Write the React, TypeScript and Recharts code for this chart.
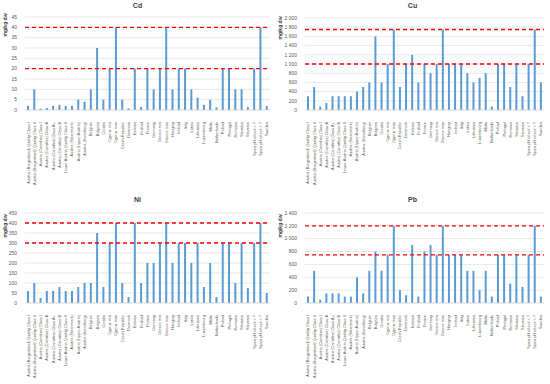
import React from 'react';
import { BarChart, Bar, XAxis, YAxis, CartesianGrid, ReferenceLine } from 'recharts';

const categories = [
  'Austria (Burgenland) Quality Class I',
  'Austria (Burgenland) Quality Class II',
  'Austria (Carinthia) Class I',
  'Austria (Carinthia) Class A',
  'Austria (Carinthia) Class A+',
  'Austria (Carinthia) Class B',
  'Lower Austria Quality Class II',
  'Austria (Steiermark)',
  'Austria (Upper Austria)',
  'Austria (Vorarlberg)',
  'Belgium',
  'Bulgaria',
  'Croatia',
  'Cyprus min',
  'Cyprus max',
  'Czech Republic',
  'Denmark',
  'Estonia',
  'Finland',
  'France',
  'Germany',
  'Greece min',
  'Greece max',
  'Hungary',
  'Ireland',
  'Italy',
  'Latvia',
  'Lithuania',
  'Luxembourg',
  'Malta',
  'Netherlands',
  'Poland',
  'Portugal',
  'Romania',
  'Slovakia',
  'Slovenia',
  'Spain pH of soil < 7',
  'Spain pH of soil > 7',
  'Sweden',
];

const cd = [2, 10, 0.7, 1, 2, 2.5, 2, 2, 5, 4, 10, 30, 5, 20, 40, 5, 0.8, 20, 1.5, 20, 10, 20, 40, 10, 20, 20, 10, 6, 2.5, 5, 1.3, 20, 20, 10, 10, 1.5, 20, 40, 2];
const cu = [300, 500, 75, 150, 300, 300, 300, 300, 400, 500, 600, 1600, 600, 1000, 1750, 500, 1000, 1200, 600, 1000, 800, 1000, 1750, 1000, 1000, 1000, 800, 600, 700, 800, 75, 1000, 1000, 500, 1000, 300, 1000, 1750, 600];
const ni = [60, 100, 25, 60, 60, 80, 60, 60, 80, 100, 100, 350, 80, 300, 400, 100, 30, 400, 100, 200, 200, 300, 400, 200, 300, 300, 200, 300, 80, 200, 30, 300, 300, 100, 300, 75, 300, 400, 50];
const pb = [100, 500, 50, 150, 150, 150, 100, 100, 400, 150, 500, 800, 500, 750, 1200, 200, 120, 900, 100, 800, 900, 750, 1200, 750, 750, 750, 500, 500, 200, 500, 100, 750, 750, 300, 750, 250, 750, 1200, 100];

const cdTicks = [0, 5, 10, 15, 20, 25, 30, 35, 40, 45];
const cuTicks = [0, 200, 400, 600, 800, 1000, 1200, 1400, 1600, 1800, 2000];
const niTicks = [0, 50, 100, 150, 200, 250, 300, 350, 400, 450];
const pbTicks = [0, 200, 400, 600, 800, 1000, 1200, 1400];

const cdLimits = [20, 40];
const cuLimits = [1000, 1750];
const niLimits = [300, 400];
const pbLimits = [750, 1200];

const FONT = 'Liberation Sans, Arial, sans-serif';

// thousands separated by a non-breaking space so the tick text never wraps
function fmt(n: number) {
  if (n < 1000) return String(n);
  return `${Math.floor(n / 1000)}\u00A0${String(n % 1000).padStart(3, '0')}`;
}

function CatTick(props: any) {
  const { x, y, payload } = props;
  return (
    <g transform={`translate(${x},${y + 4}) rotate(-90)`}>
      <text x={0} y={0} dy="0.35em" textAnchor="end" fontSize={3.9} fill="#595959" fontFamily={FONT}>
        {payload.value}
      </text>
    </g>
  );
}

interface PanelProps {
  title: string;
  values: number[];
  ticks: number[];
  limits: number[];
  left: number;
  top: number;
  yWidth: number;
  marginTop: number;
  marginBottom: number;
  marginRight: number;
  titleY: number;
  unitY: number;
}

function Panel(p: PanelProps) {
  const data = categories.map((name, i) => ({ name, value: p.values[i] }));
  const max = p.ticks[p.ticks.length - 1];
  return (
    <div style={{ position: 'absolute', left: p.left, top: p.top, width: 275, height: 192 }}>
      <div
        style={{
          position: 'absolute', left: 0, width: 275, top: p.titleY - 5, height: 10, lineHeight: '10px',
          textAlign: 'center', fontFamily: FONT, fontWeight: 'bold', fontSize: 7, color: '#404040',
        }}
      >
        {p.title}
      </div>
      <svg style={{ position: 'absolute', left: 0, top: 0 }} width={10} height={60}>
        <text
          transform={`translate(7,${p.unitY}) rotate(-90)`}
          textAnchor="middle"
          fontFamily={FONT}
          fontWeight="bold"
          fontSize={5}
          fill="#404040"
        >
          mg/kg dw
        </text>
      </svg>
      <BarChart
        width={275}
        height={192}
        data={data}
        margin={{ top: p.marginTop, right: p.marginRight, left: 0, bottom: p.marginBottom }}
        barCategoryGap={0}
      >
        <CartesianGrid vertical={false} stroke="#D9D9D9" strokeWidth={0.6} />
        <XAxis
          dataKey="name"
          interval={0}
          height={80}
          tick={<CatTick />}
          tickLine={false}
          axisLine={{ stroke: '#D9D9D9', strokeWidth: 0.6 }}
        />
        <YAxis
          width={p.yWidth}
          domain={[0, max]}
          ticks={p.ticks}
          interval={0}
          tickFormatter={fmt}
          axisLine={false}
          tickLine={false}
          tick={{ fontSize: 5, fill: '#595959', fontFamily: FONT }}
        />
        <Bar dataKey="value" fill="#5B9BD5" barSize={2} isAnimationActive={false} />
        {p.limits.map((v) => (
          <ReferenceLine key={v} y={v} stroke="#FF0000" strokeWidth={1.3} strokeDasharray="4 3" />
        ))}
      </BarChart>
    </div>
  );
}

export default function App() {
  return (
    <div style={{ position: 'absolute', left: 0, top: 0, width: 550, height: 384, background: '#fff' }}>
      <Panel title="Cd" values={cd} ticks={cdTicks} limits={cdLimits} left={0} top={0}
        yWidth={25} marginTop={17} marginBottom={2} marginRight={5} titleY={6} unitY={25} />
      <Panel title="Cu" values={cu} ticks={cuTicks} limits={cuLimits} left={275} top={0}
        yWidth={30} marginTop={18} marginBottom={2} marginRight={6} titleY={6} unitY={28} />
      <Panel title="Ni" values={ni} ticks={niTicks} limits={niLimits} left={0} top={192}
        yWidth={25} marginTop={21} marginBottom={1} marginRight={5} titleY={8} unitY={34} />
      <Panel title="Pb" values={pb} ticks={pbTicks} limits={pbLimits} left={275} top={192}
        yWidth={30} marginTop={21} marginBottom={1} marginRight={6} titleY={8} unitY={34} />
    </div>
  );
}
